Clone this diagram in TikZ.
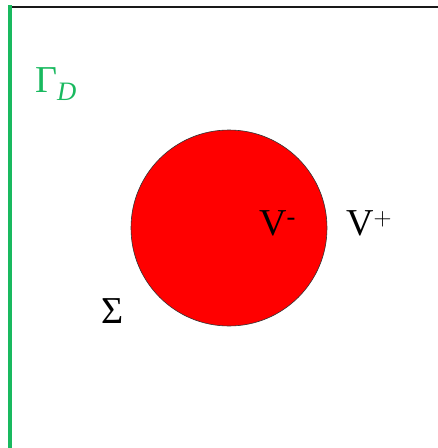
\documentclass[tikz,border=0pt]{standalone}
\usepackage{fontspec}
\setmainfont{Liberation Serif}
\definecolor{gammagreen}{RGB}{25,185,95}
\begin{document}
\begin{tikzpicture}[x=1pt,y=-1pt,
  lbl/.style={inner sep=0pt,anchor=base west,font=\fontsize{38}{40}\selectfont}]
\useasboundingbox (0,0) rectangle (438,448);
\draw[line width=2pt,black!90] (10,6.5) coordinate (tl) -- (438,6.5) coordinate (tr);
\draw[line width=3.5pt,gammagreen] (9.8,5) coordinate (gt) -- (9.8,448) coordinate (gb);
\node[circle,draw=black!80,line width=0.6pt,fill=red,minimum size=196pt,inner sep=0pt] (omega) at (229,228) {};
\node[lbl,text=gammagreen] (gammaD) at (35,92) {Γ\textsubscript{\textit{D}}};
\node[lbl] (sigma) at (101,323) {Σ};
\node[lbl] (vminus) at (259,235) {V\textsuperscript{-}};
\node[lbl] (vplus) at (346,235) {V$^{+}$};
\end{tikzpicture}
\end{document}
